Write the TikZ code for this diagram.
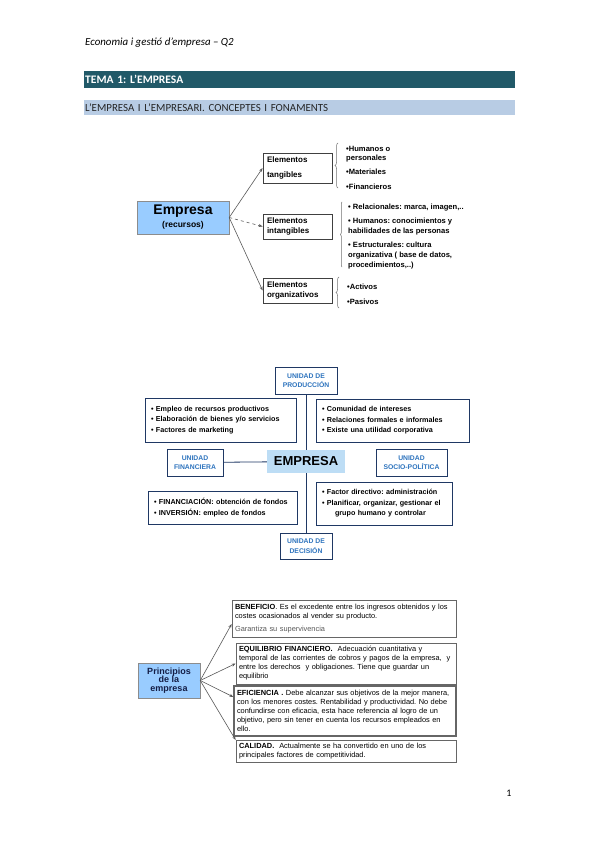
\documentclass[tikz,border=0pt]{standalone}
\usepackage{fontspec}
\setmainfont{Carlito}
\newfontfamily\arialfont{Liberation Sans}
\frenchspacing
\usetikzlibrary{arrows.meta,positioning,calc,decorations.pathreplacing}
\definecolor{temateal}{RGB}{33,89,104}
\definecolor{subblue}{RGB}{184,204,228}
\definecolor{boxblue}{RGB}{153,204,255}
\definecolor{paleblue}{RGB}{189,221,245}
\definecolor{unitblue}{RGB}{46,116,190}
\definecolor{navy}{RGB}{31,56,100}
\definecolor{inknavy}{RGB}{20,30,70}

\begin{document}
\begin{tikzpicture}[x=1pt,y=-1pt,>={Stealth[length=4pt,width=3pt]},
hdrbar/.style={fill=temateal,text=white,anchor=north west,align=left,inner xsep=1pt,inner ysep=0pt,text width=429pt,minimum height=17pt,font=\bfseries\fontsize{11.5}{13}\selectfont},
subbar/.style={fill=subblue,text=black!85,anchor=north west,align=left,inner xsep=1pt,inner ysep=0pt,text width=429pt,minimum height=15pt,font=\fontsize{10.9}{12}\selectfont},
recbox/.style={draw=black!45,fill=boxblue,align=center,inner sep=0pt,font=\arialfont\bfseries},
elembox/.style={draw=black!75,line width=0.8pt,align=left,inner xsep=4pt,inner ysep=0pt,text width=61pt,font=\arialfont\bfseries\fontsize{8}{10}\selectfont},
listtxt/.style={anchor=west,align=left,inner sep=0pt,font=\arialfont\bfseries\fontsize{7.6}{10}\selectfont},
bracemark/.style={draw=black!55,line width=0.5pt,decorate,decoration={brace,amplitude=3pt}},
linkarrow/.style={->,draw=black!65,line width=0.6pt},
unitbox/.style={draw=navy,line width=1pt,text=unitblue,align=center,inner sep=0pt,font=\arialfont\bfseries\fontsize{6.8}{9.5}\selectfont},
itembox/.style={draw=navy,line width=0.8pt,align=left,inner xsep=6pt,inner ysep=0pt,font=\arialfont\bfseries\fontsize{7.2}{10.5}\selectfont},
textbox/.style={draw=black!60,line width=0.7pt,align=left,inner xsep=3pt,inner ysep=0pt,font=\arialfont\fontsize{7.4}{9}\selectfont}]
\fill[white] (0,0) rectangle (599,848);
\useasboundingbox (0,0) rectangle (599,848);
% page header
\node[anchor=west,inner sep=0pt,font=\itshape\fontsize{10.9}{12}\selectfont] (course) at (85,43) {Economia i gestió d’empresa – Q2};
\node[hdrbar] (tema) at (84,71) {TEMA 1: L’EMPRESA};
\node[subbar] (apartat) at (84,100) {L’EMPRESA I L’EMPRESARI. CONCEPTES I FONAMENTS};
% recursos de l'empresa
\node[recbox,minimum width=92pt,minimum height=33pt,font=\arialfont\bfseries\fontsize{8.5}{13}\selectfont] (empresa) at (183,217.5) {{\fontsize{14}{15}\selectfont Empresa}\\(recursos)};
\node[elembox,minimum height=30pt] (tang) at (297.5,168) {Elementos\\[5pt]tangibles};
\node[elembox,minimum height=25pt] (intang) at (297.5,226.5) {Elementos\\intangibles};
\node[elembox,minimum height=25pt] (organ) at (297.5,290.5) {Elementos\\organizativos};
\node[listtxt] (tanglist) at (346,168) {•Humanos o\\[-1pt]personales\\[4pt]•Materiales\\[5pt]•Financieros};
\node[listtxt] (intanglist) at (348,236.5) {• Relacionales: marca, imagen,..\\[4pt]• Humanos: conocimientos y\\habilidades de las personas\\[4pt]• Estructurales: cultura\\organizativa ( base de datos,\\procedimientos,..)};
\node[listtxt] (organlist) at (347,294.5) {•Activos\\[5pt]•Pasivos};
\draw[bracemark] (338,188) -- (338,143);
\draw[bracemark,decoration={brace,amplitude=1.5pt}] (342,267) -- (342,202);
\draw[bracemark] (339,308) -- (339,277);
\draw[linkarrow] (empresa.east) -- (tang.west);
\draw[linkarrow,dashed] (empresa.east) -- (intang.west);
\draw[linkarrow] (empresa.east) -- (organ.west);
% unitats de l'empresa
\node[unitbox,minimum width=62pt,minimum height=27pt] (prod) at (306,380.5) {UNIDAD DE\\PRODUCCIÓN};
\node[unitbox,minimum width=52pt,minimum height=26pt] (dec) at (306,546) {UNIDAD DE\\DECISIÓN};
\draw[navy,line width=0.8pt] (prod) -- (dec);
\node[fill=paleblue,minimum width=78pt,minimum height=23pt,inner sep=0pt,font=\arialfont\bfseries\fontsize{13}{15}\selectfont] (empresa2) at (306,461.5) {EMPRESA};
\node[unitbox,minimum width=56pt,minimum height=27pt] (fin) at (195,462.5) {UNIDAD\\FINANCIERA};
\node[unitbox,minimum width=71pt,minimum height=27pt] (soc) at (411.5,462.5) {UNIDAD\\SOCIO-POLÍTICA};
\draw[navy,line width=0.8pt] (fin) -- (empresa2);
\node[itembox,minimum height=44pt,text width=139pt] (prodlist) at (220.5,420) {• Empleo de recursos productivos\\• Elaboración de bienes y/o servicios\\• Factores de marketing};
\node[itembox,minimum height=43pt,text width=141pt] (soclist) at (392.5,420.5) {• Comunidad de intereses\\• Relaciones formales e informales\\• Existe una utilidad corporativa};
\node[itembox,minimum height=33pt,text width=137pt] (finlist) at (222.5,507.5) {• FINANCIACIÓN: obtención de fondos\\• INVERSIÓN: empleo de fondos};
\node[itembox,minimum height=43pt,text width=124pt] (declist) at (384,503.5) {• Factor directivo: administración\\• Planificar, organizar, gestionar el\\\hspace*{13pt}grupo humano y controlar};
% principis de l'empresa
\node[recbox,minimum width=62pt,minimum height=35pt,text=inknavy,font=\arialfont\bfseries\fontsize{9}{8.8}\selectfont] (princ) at (169,680.5) {Principios\\de la\\empresa};
\node[textbox,minimum height=37pt,text width=218pt] (benef) at (344,618.5) {\textbf{BENEFICIO}. Es el excedente entre los ingresos obtenidos y los\\costes ocasionados al vender su producto.\\[4.5pt]{\color{black!65}Garantiza su supervivencia}};
\node[textbox,minimum height=41pt,text width=214pt] (equil) at (346,663.5) {\textbf{EQUILIBRIO FINANCIERO.}\ \ Adecuación cuantitativa y\\temporal de las corrientes de cobros y pagos de la empresa,\ \ y\\entre los derechos\ \ y obligaciones. Tiene que guardar un\\equilibrio};
\node[textbox,minimum height=50pt,text width=216pt,line width=1.2pt] (efic) at (345,711) {\textbf{EFICIENCIA .} Debe alcanzar sus objetivos de la mejor manera,\\con los menores costes. Rentabilidad y productividad. No debe\\confundirse con eficacia, esta hace referencia al logro de un\\objetivo, pero sin tener en cuenta los recursos empleados en\\ello.};
\node[textbox,minimum height=22pt,text width=214pt] (calid) at (346,751) {\textbf{CALIDAD.}\ \ Actualmente se ha convertido en uno de los\\principales factores de competitividad.};
\draw[linkarrow] (princ.east) -- ([yshift=-5.5pt]benef.west);
\draw[linkarrow] (princ.east) -- (equil.west);
\draw[linkarrow] (princ.east) -- ([yshift=14pt]efic.west);
\draw[linkarrow] (princ.east) -- ([yshift=11pt]calid.west);
% page number
\node[inner sep=0pt,font=\fontsize{10}{12}\selectfont] (pagenum) at (509,793) {1};
\end{tikzpicture}
\end{document}
